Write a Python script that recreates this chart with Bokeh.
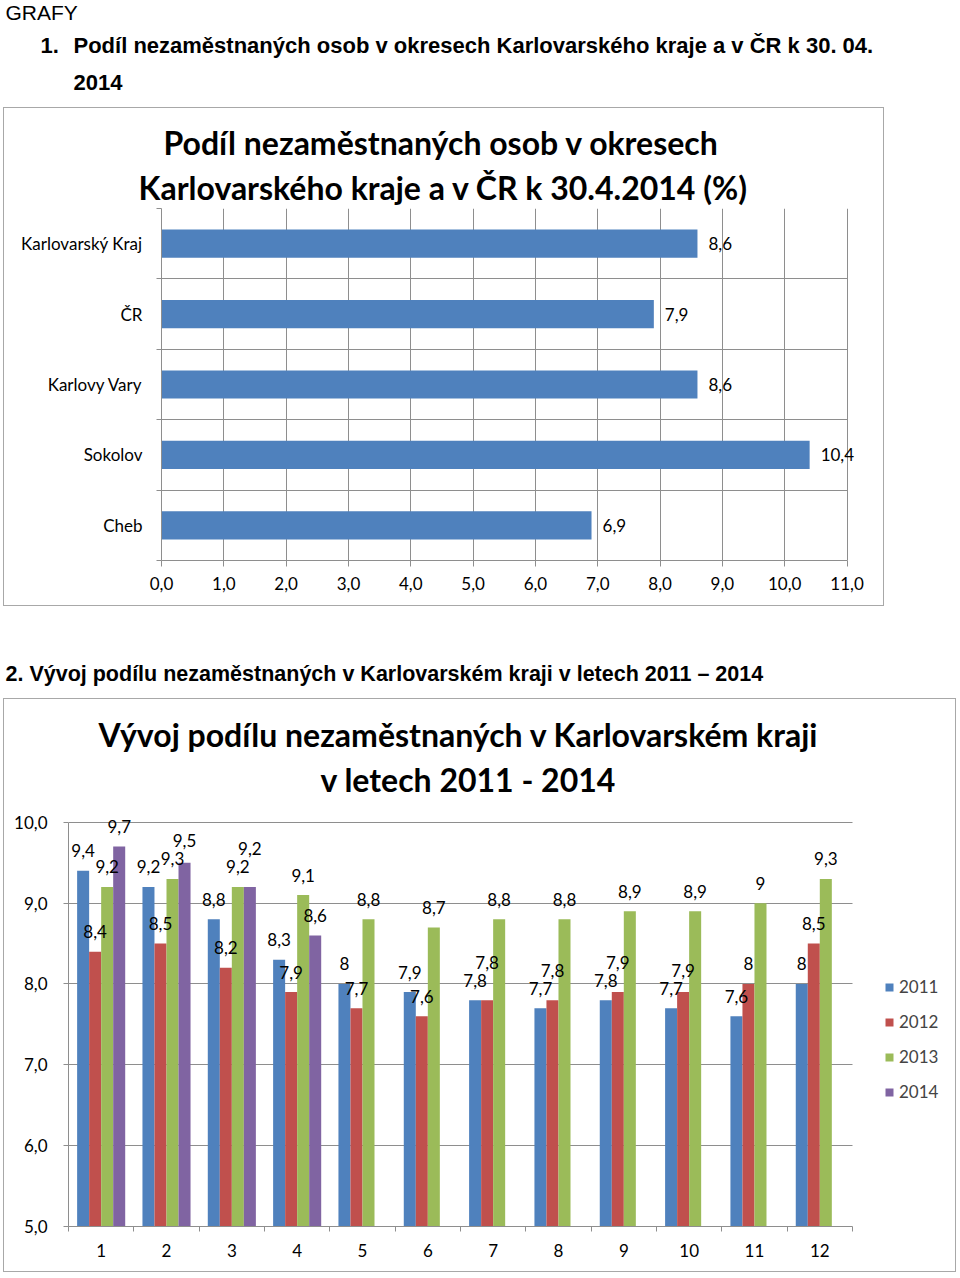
from bokeh.plotting import figure
from bokeh.models import (Range1d, FixedTicker, Title, Legend, LegendItem, LabelSet,
                          ColumnDataSource, CustomJSTickFormatter)
from bokeh.layouts import column
from bokeh.embed import file_html
from bokeh.resources import INLINE
from bokeh.core.properties import value

# ---------------- data ----------------
c1_categories = ["Karlovarský Kraj", "ČR", "Karlovy Vary", "Sokolov", "Cheb"]
c1_values = [8.6, 7.9, 8.6, 10.4, 6.9]
c1_ticks = [0, 1, 2, 3, 4, 5, 6, 7, 8, 9, 10, 11]

months = [1, 2, 3, 4, 5, 6, 7, 8, 9, 10, 11, 12]
s2011 = [9.4, 9.2, 8.8, 8.3, 8.0, 7.9, 7.8, 7.7, 7.8, 7.7, 7.6, 8.0]
s2012 = [8.4, 8.5, 8.2, 7.9, 7.7, 7.6, 7.8, 7.8, 7.9, 7.9, 8.0, 8.5]
s2013 = [9.2, 9.3, 9.2, 9.1, 8.8, 8.7, 8.8, 8.8, 8.9, 8.9, 9.0, 9.3]
s2014 = [9.7, 9.5, 9.2, 8.6]
years = ["2011", "2012", "2013", "2014"]
c2_yticks = [5, 6, 7, 8, 9, 10]

heading0 = "GRAFY"
heading1a = "1."
heading1b = "Podíl nezaměstnaných osob v okresech Karlovarského kraje a v ČR k 30. 04."
heading1c = "2014"
heading2 = "2. Vývoj podílu nezaměstnaných v Karlovarském kraji v letech 2011 – 2014"
title1 = ["Podíl nezaměstnaných osob v okresech", "Karlovarského kraje a v ČR k 30.4.2014 (%)"]
title2 = ["Vývoj podílu nezaměstnaných v Karlovarském kraji", "v letech 2011 - 2014"]

# ---------------- styles ----------------
FONT = "Lato"
HFONT = "Liberation Sans"
BLUE, RED, GREEN, PURPLE = "#4F81BD", "#C0504D", "#9BBB59", "#8064A2"
COLORS = [BLUE, RED, GREEN, PURPLE]
GRID = "#8e8e8e"
BORDER = "#a8a8a8"
BORDER_CSS = {"border": f"1px solid {BORDER}"}


def fmt(v):
    return f"{v:g}".replace(".", ",")


comma1 = CustomJSTickFormatter(code="return tick.toFixed(1).replace('.', ',');")


def no_align(p):
    try:
        p.frame_align = False
    except Exception:
        pass


def text_fig(w, h):
    p = figure(width=w, height=h, x_range=Range1d(0, w), y_range=Range1d(h, 0),
               x_axis_type=None, y_axis_type=None, output_backend="svg",
               toolbar_location=None, min_border=0, title=None)
    p.grid.visible = False
    p.outline_line_color = None
    no_align(p)
    return p


def title(text, size, offset, standoff):
    return Title(text=text, align="left", offset=offset, text_font=FONT,
                 text_font_size=size, text_font_style="bold", standoff=standoff,
                 text_color="black")


# ---------------- heading 1 ----------------
h1 = text_fig(960, 107)
h1.text(x=[5], y=[12], text=[heading0], text_font=value(HFONT), text_font_size="21px",
        text_baseline="middle", text_color="black")
h1.text(x=[40, 73, 73], y=[45, 45, 82], text=[heading1a, heading1b, heading1c],
        text_font=value(HFONT), text_font_size="22px", text_font_style="bold",
        text_baseline="middle", text_color="black")

# ---------------- chart 1 ----------------
C1_END = 11.2   # a little room right of the 11,0 gridline for the value labels
p1 = figure(width=881, height=499, x_range=Range1d(0, C1_END), y_range=Range1d(0, 5),
            output_backend="svg", toolbar_location=None, title=None,
            min_border_left=157, min_border_right=26, min_border_top=100,
            min_border_bottom=47, margin=(0, 0, 0, 3))
no_align(p1)
p1.styles = BORDER_CSS
p1.outline_line_color = None

n1 = len(c1_categories)
ypos = [n1 - 1 - i + 0.5 for i in range(n1)]
src1 = ColumnDataSource(dict(y=ypos, v=c1_values, lab=[fmt(v) for v in c1_values]))
p1.hbar(y="y", left=0, right="v", height=0.4, fill_color=BLUE, line_color=None, source=src1)
p1.add_layout(LabelSet(x="v", y="y", text="lab", x_offset=11, text_align="left",
                       text_baseline="middle", text_font=value(FONT),
                       text_font_size=value("17px"), text_color="black", source=src1))

p1.xaxis.ticker = FixedTicker(ticks=c1_ticks)
p1.xaxis.formatter = comma1
p1.xaxis.bounds = (c1_ticks[0], c1_ticks[-1])
p1.yaxis.ticker = FixedTicker(ticks=ypos, minor_ticks=list(range(n1 + 1)))
p1.yaxis.major_label_overrides = {y: c for y, c in zip(ypos, c1_categories)}
p1.xgrid.ticker = FixedTicker(ticks=c1_ticks)
p1.ygrid.ticker = FixedTicker(ticks=list(range(n1 + 1)))
p1.ygrid.cross_bounds = (c1_ticks[0], c1_ticks[-1])
for g in (p1.xgrid, p1.ygrid):
    g.grid_line_color = GRID
    g.grid_line_width = 1
for ax in (p1.xaxis, p1.yaxis):
    ax.axis_line_color = GRID
    ax.major_tick_line_color = GRID
    ax.minor_tick_line_color = GRID
    ax.major_label_text_font = FONT
    ax.major_label_text_font_size = "17px"
    ax.major_label_text_color = "black"
p1.xaxis.major_tick_out = 6
p1.xaxis.major_tick_in = 0
p1.xaxis.minor_tick_out = 0
p1.xaxis.major_label_standoff = 10
p1.yaxis.major_tick_out = 0
p1.yaxis.major_tick_in = 0
p1.yaxis.minor_tick_out = 5
p1.yaxis.minor_tick_in = 0
p1.yaxis.major_label_standoff = 14

p1.add_layout(title(title1[1], "32px", -23, 4), "above")
p1.add_layout(title(title1[0], "32px", 2, 4), "above")

# ---------------- heading 2 ----------------
h2 = text_fig(960, 92)
h2.text(x=[5], y=[67], text=[heading2], text_font=value(HFONT), text_font_size="21.5px",
        text_font_style="bold", text_baseline="middle", text_color="black")

# ---------------- chart 2 ----------------
P2_W, P2_H = 953, 574
B_LEFT, B_RIGHT, B_TOP, B_BOTTOM = 64, 12, 101, 47
X0, X1 = 0.5, 13.924     # months 1..12 occupy 0.5..12.5, the rest holds the legend
Y0, Y1 = 5, 10.27        # a little head room above 10,0 for the value labels
p2 = figure(width=P2_W, height=P2_H, x_range=Range1d(X0, X1), y_range=Range1d(Y0, Y1),
            output_backend="svg", toolbar_location=None, title=None,
            min_border_left=B_LEFT, min_border_right=B_RIGHT, min_border_top=B_TOP,
            min_border_bottom=B_BOTTOM, margin=(0, 0, 0, 3))
no_align(p2)
p2.styles = BORDER_CSS
p2.outline_line_color = None

px_per_unit = (P2_H - B_TOP - B_BOTTOM) / (Y1 - Y0)
px_per_x = (P2_W - B_LEFT - B_RIGHT) / (X1 - X0)

BW = 0.184
offsets = [-1.5 * BW, -0.5 * BW, 0.5 * BW, 1.5 * BW]
series = [s2011, s2012, s2013, s2014]

# simple label collision avoidance (like the spreadsheet does): push a label up
# when it would overlap a label already placed in the same month group
LABEL_GAP = 20
placed = {m: [] for m in months}
yoffs = []
for vals, off in zip(series, offsets):
    row = []
    for m, v in zip(months, vals):
        sy = v * px_per_unit + LABEL_GAP
        sx = (m + off) * px_per_x
        moved = True
        while moved:
            moved = False
            for (px, py) in placed[m]:
                if abs(px - sx) < 22 and abs(py - sy) < 17:
                    sy = py + 18
                    moved = True
        placed[m].append((sx, sy))
        row.append(sy - v * px_per_unit)
    yoffs.append(row)

items = []
for yr, vals, col, off, yo in zip(years, series, COLORS, offsets, yoffs):
    xs = [m + off for m in months[:len(vals)]]
    src = ColumnDataSource(dict(x=xs, top=vals, lab=[fmt(v) for v in vals], yo=yo))
    r = p2.vbar(x="x", top="top", bottom=c2_yticks[0], width=BW, fill_color=col,
                line_color=None, source=src)
    p2.add_layout(LabelSet(x="x", y="top", text="lab", y_offset="yo", text_align="center",
                           text_baseline="middle", text_font=value(FONT),
                           text_font_size=value("17px"), text_color="black", source=src))
    items.append(LegendItem(label=yr, renderers=[r]))

p2.yaxis.ticker = FixedTicker(ticks=c2_yticks)
p2.yaxis.formatter = comma1
p2.yaxis.bounds = (c2_yticks[0], c2_yticks[-1])
p2.xaxis.ticker = FixedTicker(ticks=months,
                              minor_ticks=[m - 0.5 for m in months] + [months[-1] + 0.5])
p2.xaxis.bounds = (months[0] - 0.5, months[-1] + 0.5)
p2.xgrid.visible = False
p2.ygrid.ticker = FixedTicker(ticks=c2_yticks)
p2.ygrid.cross_bounds = (months[0] - 0.5, months[-1] + 0.5)
p2.ygrid.grid_line_color = GRID
for ax in (p2.xaxis, p2.yaxis):
    ax.axis_line_color = GRID
    ax.major_tick_line_color = GRID
    ax.minor_tick_line_color = GRID
    ax.major_label_text_font = FONT
    ax.major_label_text_font_size = "17px"
    ax.major_label_text_color = "black"
p2.yaxis.major_tick_out = 5
p2.yaxis.major_tick_in = 0
p2.yaxis.minor_tick_out = 0
p2.yaxis.major_label_standoff = 16
p2.xaxis.major_tick_out = 0
p2.xaxis.major_tick_in = 0
p2.xaxis.minor_tick_out = 5
p2.xaxis.minor_tick_in = 0
p2.xaxis.major_label_standoff = 12

legend = Legend(items=items, location=(816, 124), glyph_width=10, glyph_height=10,
                label_text_font=FONT, label_text_font_size="17px", label_standoff=5,
                spacing=14, padding=0, margin=0, border_line_color=None,
                background_fill_alpha=0)
p2.add_layout(legend)

p2.add_layout(title(title2[1], "32px", 252, 4), "above")
p2.add_layout(title(title2[0], "32px", 30, 4), "above")

page = column(h1, p1, h2, p2)
open("out.html", "w").write(file_html(page, INLINE))
